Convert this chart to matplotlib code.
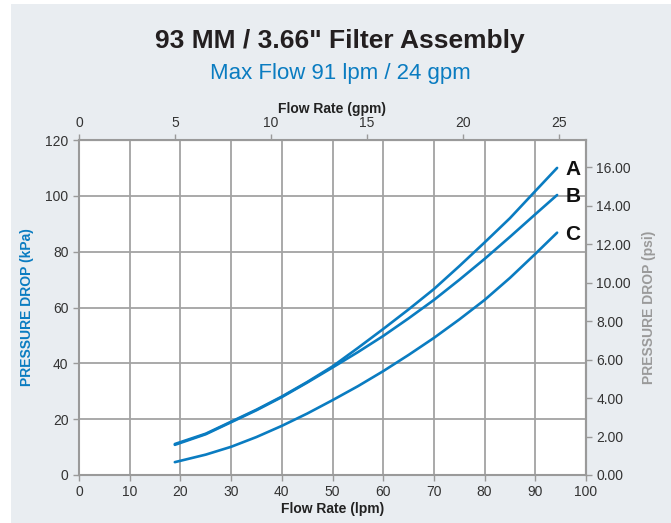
import matplotlib.pyplot as plt
import matplotlib.patches as mpatches
from matplotlib.ticker import FormatStrFormatter

# flow rate (lpm) and pressure drop (kPa)
flow_lpm = [18.9, 25, 30, 35, 40, 45, 50, 55, 60, 65, 70, 75, 80, 85, 90, 94.3]
dp_A = [11.1, 14.8, 19.1, 23.4, 28.1, 33.3, 38.9, 45.5, 52.3, 59.3, 66.6, 74.8, 83.3, 92.0, 101.7, 110.0]
dp_B = [10.8, 14.6, 18.9, 23.2, 27.9, 33.1, 38.5, 44.0, 49.8, 56.1, 62.7, 69.9, 77.4, 85.3, 93.4, 100.3]
dp_C = [4.6, 7.3, 10.1, 13.6, 17.6, 22.0, 26.8, 31.8, 37.2, 43.0, 49.1, 55.7, 62.7, 70.6, 79.2, 86.8]
curve_names = ["A", "B", "C"]

gpm_ticks = [0, 5, 10, 15, 20, 25]
psi_ticks = [0, 2, 4, 6, 8, 10, 12, 14, 16]

LPM_PER_GPM = 3.78541
PSI_PER_KPA = 0.145038

BLUE = "#0a7cc1"
GRID = "#a3a3a3"
TXT = "#333333"

plt.rcParams["font.family"] = ["Liberation Sans", "DejaVu Sans"]

fig = plt.figure(figsize=(6.71, 5.23), dpi=100)
fig.patch.set_facecolor("white")
# light panel behind the chart
fig.patches.append(mpatches.Rectangle((11 / 671, 0), 1, 1 - 4 / 523, transform=fig.transFigure,
                                      facecolor="#e9edf1", edgecolor="none", zorder=-10))

ax = fig.add_axes([79 / 671, 1 - 475 / 523, 507 / 671, 335 / 523])
ax.set_facecolor("white")
ax.set_xlim(0, 100)
ax.set_ylim(0, 120)
ax.set_xticks(range(0, 101, 10))
ax.set_yticks(range(0, 121, 20))
ax.grid(True, color=GRID, lw=1.3)
ax.set_axisbelow(True)
for s in ax.spines.values():
    s.set_color("#9a9a9a")
    s.set_linewidth(1.5)
ax.tick_params(colors="#9a9a9a", labelcolor=TXT, labelsize=10, length=4, width=1)

for ys in (dp_A, dp_B, dp_C):
    ax.plot(flow_lpm, ys, color=BLUE, lw=1.9, solid_capstyle="round", zorder=3)

label_y = [dp_A[-1], dp_B[-1], dp_C[-1]]
for name, yv in zip(curve_names, label_y):
    ax.annotate(name, xy=(flow_lpm[-1], yv), xytext=(6, -1), textcoords="offset points",
                fontsize=15, fontweight="bold", color="#111111", va="center", ha="left",
                annotation_clip=False)

ax.set_xlabel("Flow Rate (lpm)", fontsize=10, fontweight="bold", color="#222222", labelpad=2)
ax.set_ylabel("PRESSURE DROP (kPa)", fontsize=10, fontweight="bold", color=BLUE, labelpad=8)

top = ax.secondary_xaxis("top", functions=(lambda x: x / LPM_PER_GPM, lambda g: g * LPM_PER_GPM))
top.set_xticks(gpm_ticks)
top.tick_params(colors="#9a9a9a", labelcolor=TXT, labelsize=10, length=4, width=1)
top.set_xlabel("Flow Rate (gpm)", fontsize=10, fontweight="bold", color="#222222", labelpad=2)
top.spines["top"].set_color("#9a9a9a")

right = ax.secondary_yaxis("right", functions=(lambda k: k * PSI_PER_KPA, lambda p: p / PSI_PER_KPA))
right.set_yticks(psi_ticks)
right.yaxis.set_major_formatter(FormatStrFormatter("%.2f"))
right.tick_params(colors="#9a9a9a", labelcolor=TXT, labelsize=10, length=4, width=1)
right.set_ylabel("PRESSURE DROP (psi)", fontsize=10, fontweight="bold", color="#9a9a9a", labelpad=8)
right.spines["right"].set_color("#9a9a9a")
right.spines["right"].set_linewidth(1.5)

fig.text(0.507, 1 - 41 / 523, "93 MM / 3.66\" Filter Assembly", ha="center", va="center",
         fontsize=19, fontweight="bold", color="#231f20")
fig.text(0.508, 1 - 73 / 523, "Max Flow 91 lpm / 24 gpm", ha="center", va="center",
         fontsize=16, color=BLUE)

fig.savefig("out.png", dpi=100)
